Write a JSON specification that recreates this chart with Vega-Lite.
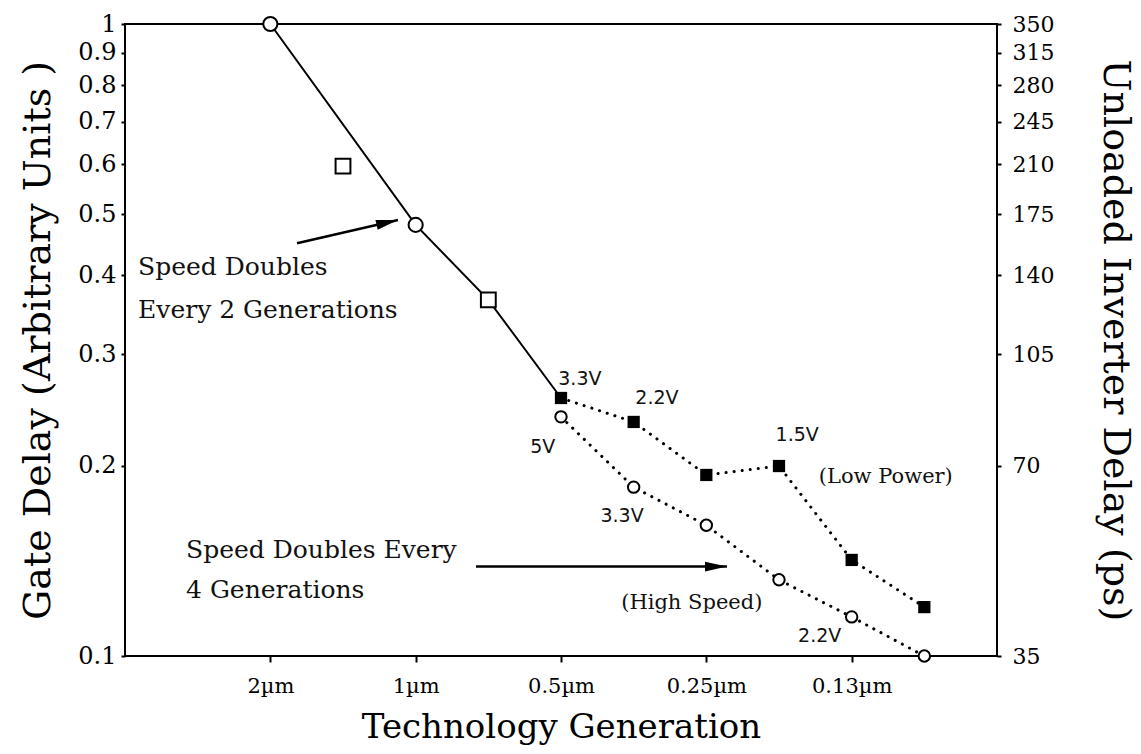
{
  "$schema": "https://vega.github.io/schema/vega-lite/v6.json",
  "width": 872,
  "height": 632,
  "autosize": {"type": "none"},
  "padding": {"left": 125, "top": 24, "right": 144, "bottom": 98},
  "background": "white",
  "config": {
    "view": {"stroke": "black", "strokeWidth": 2},
    "axis": {"grid": false, "domain": false, "labelColor": "black", "titleColor": "black", "tickColor": "black", "titleFontWeight": "normal"}
  },
  "datasets": {
    "mainLine": [
      {"x": 0, "y": 1.0}, {"x": 2, "y": 0.481}, {"x": 3, "y": 0.366}, {"x": 4, "y": 0.256}
    ],
    "mainCircles": [
      {"x": 0, "y": 1.0}, {"x": 2, "y": 0.481}
    ],
    "mainSquares": [
      {"x": 1, "y": 0.596}, {"x": 3, "y": 0.366}
    ],
    "lowPower": [
      {"x": 4, "y": 0.256}, {"x": 5, "y": 0.2346}, {"x": 6, "y": 0.1934},
      {"x": 7, "y": 0.1998}, {"x": 8, "y": 0.1419}, {"x": 9, "y": 0.1195}
    ],
    "highSpeed": [
      {"x": 4, "y": 0.239}, {"x": 5, "y": 0.185}, {"x": 6, "y": 0.161},
      {"x": 7, "y": 0.132}, {"x": 8, "y": 0.1153}, {"x": 9, "y": 0.1}
    ],
    "voltLabels": [
      {"x": 4.26, "y": 0.2744, "text": "3.3V"},
      {"x": 5.32, "y": 0.256, "text": "2.2V"},
      {"x": 3.75, "y": 0.2141, "text": "5V"},
      {"x": 7.25, "y": 0.2237, "text": "1.5V"},
      {"x": 4.84, "y": 0.1666, "text": "3.3V"},
      {"x": 7.56, "y": 0.1076, "text": "2.2V"}
    ],
    "seriesLabels": [
      {"x": 8.47, "y": 0.1919, "text": "(Low Power)"},
      {"x": 5.8, "y": 0.1212, "text": "(High Speed)"}
    ],
    "notes": [
      {"x": -1.82, "y": 0.4126, "text": "Speed Doubles"},
      {"x": -1.82, "y": 0.3527, "text": "Every 2 Generations"},
      {"x": -1.16, "y": 0.1472, "text": "Speed Doubles Every"},
      {"x": -1.16, "y": 0.1272, "text": "4 Generations"}
    ],
    "arrows": [
      {"x": 0.367, "y": 0.450, "x2": 1.757, "y2": 0.4897},
      {"x": 2.83, "y": 0.1385, "x2": 6.284, "y2": 0.1385}
    ],
    "head1": [{"x": 1.757, "y": 0.4897}],
    "head2": [{"x": 6.284, "y": 0.1385}]
  },
  "layer": [
    {
      "data": {"name": "mainLine"},
      "mark": {"type": "line", "color": "black", "strokeWidth": 2},
      "encoding": {
        "x": {"field": "x", "type": "quantitative", "scale": {"domain": [-2, 10], "nice": false, "zero": false},
          "axis": {"values": [0, 2, 4, 6, 8], "labelExpr": "['2µm','1µm','0.5µm','0.25µm','0.13µm'][datum.value/2]",
            "labelFont": "DejaVu Serif", "labelFontSize": 21, "labelFlush": false, "tickSize": 6, "tickWidth": 2, "labelPadding": 13,
            "title": "Technology Generation", "titleFont": "DejaVu Serif", "titleFontSize": 34, "titlePadding": 14}},
        "y": {"field": "y", "type": "quantitative", "scale": {"type": "log", "domain": [0.1, 1], "nice": false},
          "axis": {"orient": "left", "values": [0.1, 0.2, 0.3, 0.4, 0.5, 0.6, 0.7, 0.8, 0.9, 1], "format": ".1~f",
            "labelFont": "DejaVu Serif", "labelFontSize": 24, "tickSize": 4, "tickWidth": 2, "labelPadding": 5,
            "title": "Gate Delay (Arbitrary Units )", "titleFont": "DejaVu Serif", "titleFontSize": 38, "titlePadding": 20}}
      }
    },
    {
      "data": {"name": "lowPower"},
      "mark": {"type": "line", "color": "black", "strokeWidth": 3, "strokeDash": [0.1, 8], "strokeCap": "round"},
      "encoding": {
        "x": {"field": "x", "type": "quantitative"},
        "y": {"field": "y", "type": "quantitative", "axis": null}
      }
    },
    {
      "data": {"name": "highSpeed"},
      "mark": {"type": "line", "color": "black", "strokeWidth": 3, "strokeDash": [0.1, 8], "strokeCap": "round"},
      "encoding": {
        "x": {"field": "x", "type": "quantitative"},
        "y": {"field": "y", "type": "quantitative", "axis": null}
      }
    },
    {
      "data": {"name": "arrows"},
      "mark": {"type": "rule", "color": "black", "strokeWidth": 2.5},
      "encoding": {
        "x": {"field": "x", "type": "quantitative"},
        "y": {"field": "y", "type": "quantitative", "axis": null},
        "x2": {"field": "x2"},
        "y2": {"field": "y2"}
      }
    },
    {
      "data": {"name": "head1"},
      "mark": {"type": "point", "shape": "M-2,-0.45L0,0L-2,0.45Z", "filled": true, "color": "black", "opacity": 1, "size": 484, "angle": 347},
      "encoding": {
        "x": {"field": "x", "type": "quantitative"},
        "y": {"field": "y", "type": "quantitative", "axis": null}
      }
    },
    {
      "data": {"name": "head2"},
      "mark": {"type": "point", "shape": "M-2,-0.45L0,0L-2,0.45Z", "filled": true, "color": "black", "opacity": 1, "size": 484},
      "encoding": {
        "x": {"field": "x", "type": "quantitative"},
        "y": {"field": "y", "type": "quantitative", "axis": null}
      }
    },
    {
      "data": {"name": "mainCircles"},
      "mark": {"type": "point", "shape": "circle", "filled": true, "fill": "white", "stroke": "black", "strokeWidth": 2, "opacity": 1, "size": 200},
      "encoding": {
        "x": {"field": "x", "type": "quantitative"},
        "y": {"field": "y", "type": "quantitative", "axis": null}
      }
    },
    {
      "data": {"name": "mainSquares"},
      "mark": {"type": "point", "shape": "square", "filled": true, "fill": "white", "stroke": "black", "strokeWidth": 2, "opacity": 1, "size": 220},
      "encoding": {
        "x": {"field": "x", "type": "quantitative"},
        "y": {"field": "y", "type": "quantitative", "axis": null}
      }
    },
    {
      "data": {"name": "lowPower"},
      "mark": {"type": "point", "shape": "square", "filled": true, "color": "black", "opacity": 1, "size": 150},
      "encoding": {
        "x": {"field": "x", "type": "quantitative"},
        "y": {"field": "y", "type": "quantitative", "axis": null}
      }
    },
    {
      "data": {"name": "highSpeed"},
      "mark": {"type": "point", "shape": "circle", "filled": true, "fill": "white", "stroke": "black", "strokeWidth": 2, "opacity": 1, "size": 130},
      "encoding": {
        "x": {"field": "x", "type": "quantitative"},
        "y": {"field": "y", "type": "quantitative",
          "axis": {"orient": "right", "values": [0.1, 0.2, 0.3, 0.4, 0.5, 0.6, 0.7, 0.8, 0.9, 1],
            "labelExpr": "format(datum.value*350,'d')",
            "labelFont": "DejaVu Serif", "labelFontSize": 22, "tickSize": 4, "tickWidth": 2, "labelPadding": 11,
            "title": "Unloaded Inverter Delay (ps)", "titleFont": "DejaVu Serif", "titleFontSize": 38, "titleAngle": 90, "titlePadding": 42}}
      }
    },
    {
      "data": {"name": "voltLabels"},
      "mark": {"type": "text", "font": "DejaVu Sans", "fontSize": 19, "align": "center", "baseline": "middle", "color": "#111"},
      "encoding": {
        "x": {"field": "x", "type": "quantitative"},
        "y": {"field": "y", "type": "quantitative", "axis": null},
        "text": {"field": "text"}
      }
    },
    {
      "data": {"name": "seriesLabels"},
      "mark": {"type": "text", "font": "DejaVu Serif", "fontSize": 21, "align": "center", "baseline": "middle", "color": "#111"},
      "encoding": {
        "x": {"field": "x", "type": "quantitative"},
        "y": {"field": "y", "type": "quantitative", "axis": null},
        "text": {"field": "text"}
      }
    },
    {
      "data": {"name": "notes"},
      "mark": {"type": "text", "font": "DejaVu Serif", "fontSize": 25, "align": "left", "baseline": "middle", "color": "#111"},
      "encoding": {
        "x": {"field": "x", "type": "quantitative"},
        "y": {"field": "y", "type": "quantitative", "axis": null},
        "text": {"field": "text"}
      }
    }
  ],
  "resolve": {"axis": {"y": "independent"}}
}
